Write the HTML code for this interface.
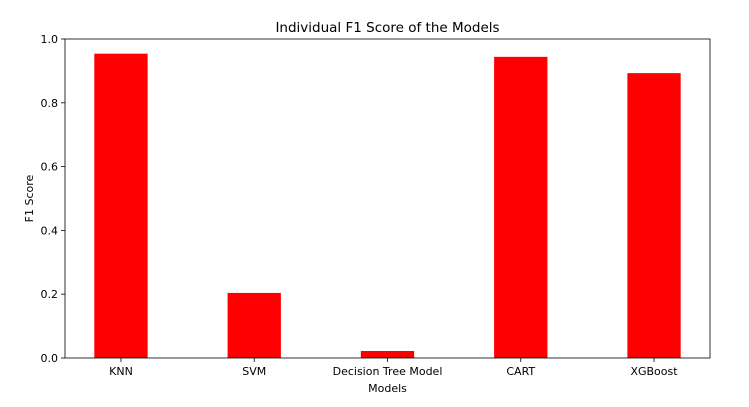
<!DOCTYPE html>
<html><head><meta charset="utf-8"><style>
body{margin:0;background:#fff;width:749px;height:402px;overflow:hidden}
text{font-family:"DejaVu Sans","Liberation Sans",sans-serif;fill:#000}
</style></head><body>
<svg id="chart" width="749" height="402" viewBox="0 0 749 402"></svg>
<script>
const categories=["KNN","SVM","Decision Tree Model","CART","XGBoost"];
const f1Scores=[0.954,0.204,0.022,0.944,0.893];
const yTicks=[0.0,0.2,0.4,0.6,0.8,1.0];
const L=65,R=710,T=39,B=358;
const n=categories.length;
const step=(R-L)/(n-1+0.84);
const xs=i=>L+step*(0.42+i);
const ys=v=>B-(v/1.0)*(B-T);
const svg=document.getElementById('chart');
const NS='http://www.w3.org/2000/svg';
function mk(tag,attrs,txt){const e=document.createElementNS(NS,tag);for(const k in attrs)e.setAttribute(k,attrs[k]);if(txt!==undefined)e.textContent=txt;svg.appendChild(e);return e;}
const bw=step*0.4;
f1Scores.forEach((v,i)=>{
 const r=mk('rect',{x:xs(i)-bw/2,y:ys(v),width:bw,height:B-ys(v),fill:'#ff0000'});
 
 
 mk('line',{x1:xs(i),x2:xs(i),y1:B,y2:B+4,stroke:'#000','stroke-width':0.8});
 const t=mk('text',{x:xs(i),y:B+17,'text-anchor':'middle','font-size':11},categories[i]);
 
 
});
yTicks.forEach(v=>{
 mk('line',{x1:L-4,x2:L,y1:ys(v),y2:ys(v),stroke:'#000','stroke-width':0.8});
 const t=mk('text',{x:L-7,y:ys(v)+4,'text-anchor':'end','font-size':11},v.toFixed(1));
 
 
});
const frame=mk('rect',{x:L,y:T,width:R-L,height:B-T,fill:'none',stroke:'#000','stroke-width':0.8});


const title=mk('text',{x:(L+R)/2,y:32,'text-anchor':'middle','font-size':13.5},'Individual F1 Score of the Models');


const xt=mk('text',{x:(L+R)/2,y:392,'text-anchor':'middle','font-size':11},'Models');


const yt=mk('text',{x:0,y:0,'text-anchor':'middle','font-size':11,transform:'translate(33,'+((T+B)/2)+') rotate(-90)'},'F1 Score');


</script>
</body></html>
